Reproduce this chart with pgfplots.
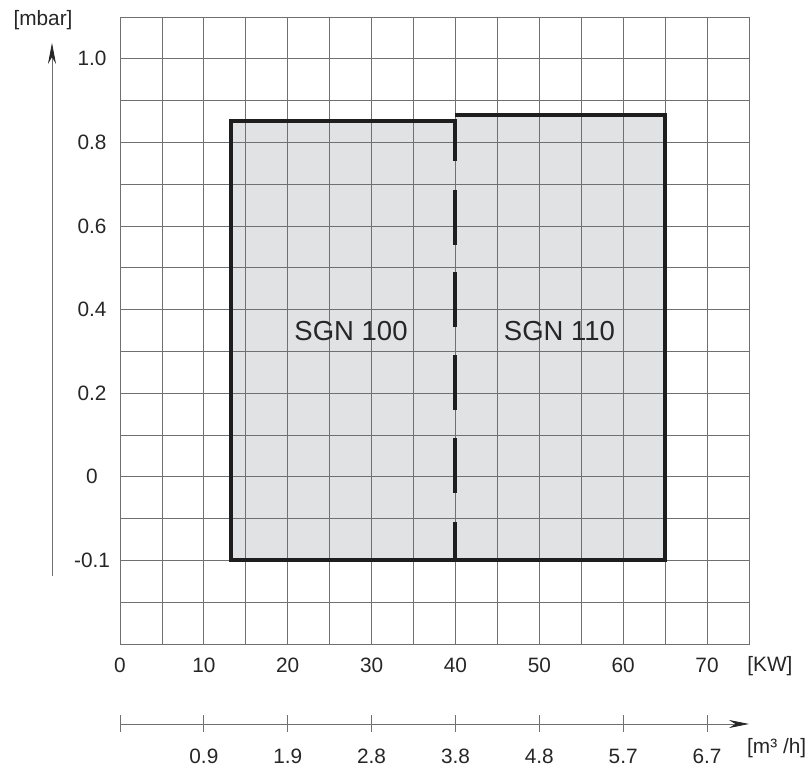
\documentclass[border=0pt]{standalone}
\usepackage{pgfplots}
\pgfplotsset{compat=1.18}
\usepackage{fontspec}
\setmainfont{Liberation Sans}
\usetikzlibrary{arrows.meta}
\definecolor{fillgray}{HTML}{E1E2E4}
\definecolor{gridgray}{HTML}{707070}
\definecolor{outline}{HTML}{1E1E1E}
\begin{document}
\begin{tikzpicture}
\begin{axis}[
  at={(0pt,0pt)}, anchor=south west,
  scale only axis, width=629pt, height=627pt,
  xmin=0, xmax=75, ymin=-2, ymax=13,
  set layers, clip=false,
  xtick={0,10,...,70},
  xticklabels={0,10,20,30,40,50,60,70},
  minor xtick={5,15,...,75},
  ytick={0,2,4,6,8,10,12},
  yticklabels={-0.1,0,0.2,0.4,0.6,0.8,1.0},
  minor ytick={-2,-1,1,3,5,7,9,11,13},
  grid=both,
  grid style={gridgray, line width=0.8pt},
  minor grid style={gridgray, line width=0.8pt},
  major tick length=0pt, minor tick length=0pt,
  axis line style={gridgray, line width=0.8pt},
  ticklabel style={font=\fontsize{20.8}{24}\selectfont, text=black!85},
  xticklabel style={anchor=center, yshift=-21.5pt},
  yticklabel style={anchor=center, xshift=-28pt},
]
% shaded operating range
\addplot[draw=none, fill=fillgray, on layer=axis background] coordinates {
  (13.25,0) (13.25,10.5) (40,10.5) (40,10.65) (65,10.65) (65,0) (13.25,0)};
% outline
\addplot[outline, line width=4pt, line join=miter] coordinates {
  (40,9.55) (40,10.5) (13.25,10.5) (13.25,0) (65,0) (65,10.65) (39.9,10.65)};
% dashed divider
\addplot[outline, line width=4pt, unbounded coords=jump] coordinates {
  (40,0) (40,0.92) (40,nan)
  (40,1.61) (40,2.93) (40,nan)
  (40,3.60) (40,4.91) (40,nan)
  (40,5.58) (40,6.90) (40,nan)
  (40,7.55) (40,8.86)};
% labels
\node[font=\fontsize{27.5}{32}\selectfont, text=black!85] at (axis cs:27.55,5.49) {SGN 100};
\node[font=\fontsize{27.5}{32}\selectfont, text=black!85] at (axis cs:52.4,5.49) {SGN 110};
\node[inner sep=0pt, font=\fontsize{20.8}{24}\selectfont, text=black!85] at (axis cs:-9.18,12.93) {[mbar]};
\node[inner sep=0pt, font=\fontsize{20.8}{24}\selectfont, text=black!85] at (axis cs:77.5,-2.53) {[KW]};
\node[inner sep=0pt, font=\fontsize{20.8}{24}\selectfont, text=black!85] at (axis cs:78.3,-4.49) {[m³ /h]};
% y arrow
\draw[gridgray, line width=0.8pt, -{Stealth[length=21pt,width=8pt,color=black!85]}]
  (axis cs:-8.11,-0.37) -- (axis cs:-8.11,12.38);
\end{axis}
\begin{axis}[
  at={(0pt,-80pt)}, anchor=south west,
  scale only axis, width=629pt, height=10pt,
  xmin=0, xmax=75, ymin=0, ymax=1,
  axis x line*=bottom, axis y line=none,
  x axis line style={gridgray, line width=0.8pt, -{Stealth[length=20pt,width=8pt,color=black!85]}},
  xtick={0,10,...,70},
  xticklabels={,0.9,1.9,2.8,3.8,4.8,5.7,6.7},
  tick align=center, major tick length=17pt,
  tick style={gridgray, line width=0.8pt},
  ticklabel style={font=\fontsize{20.8}{24}\selectfont, text=black!85},
  xticklabel style={anchor=center, yshift=-24pt},
]
\addplot[draw=none] coordinates {(0,0) (75,1)};
\end{axis}
\path (-120pt,-114pt) rectangle (689pt,644pt);
\end{tikzpicture}
\end{document}
